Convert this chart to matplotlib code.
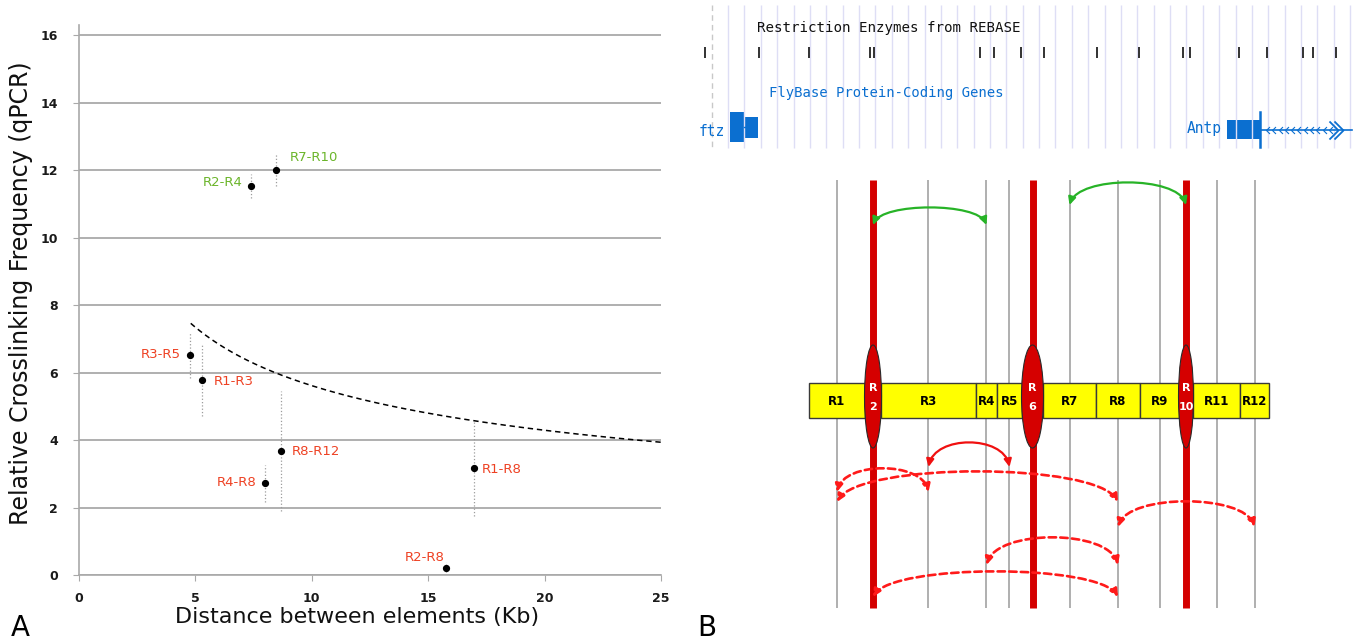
import matplotlib.pyplot as plt
import numpy as np
from matplotlib.patches import Rectangle, Ellipse, FancyArrowPatch
from matplotlib.path import Path

# ---------------- panel A data ----------------
pairs = ["R7-R10", "R2-R4", "R3-R5", "R1-R3", "R8-R12", "R4-R8", "R1-R8", "R2-R8"]
distance_kb = [8.47, 7.37, 4.77, 5.29, 8.66, 7.99, 16.95, 15.75]
frequency = [12.0, 11.52, 6.53, 5.78, 3.67, 2.73, 3.17, 0.22]
err_low = [11.52, 11.16, 5.84, 4.71, 1.9, 2.16, 1.74, 0.09]
err_high = [12.49, 11.89, 7.21, 6.81, 5.44, 3.26, 4.53, 0.38]
pair_group = ["green", "green", "red", "red", "red", "red", "red", "red"]

# points
curve_x = [4.8, 8.5, 10, 17, 20, 25]
curve_y = [7.48, 6.0, 5.56, 4.56, 4.29, 3.95]

# ---------------- panel B data ----------------
region_names = ["R1", "R2", "R3", "R4", "R5", "R6", "R7", "R8", "R9", "R10", "R11", "R12"]
region_edges = [809, 865, 881, 976, 997, 1022, 1043, 1096, 1140, 1179, 1193, 1240, 1269]
insulators = ["R2", "R6", "R10"]

rebase_sites = [705, 759, 809, 870, 874, 980, 994, 1021, 1044, 1097, 1139,
                1183, 1190, 1239, 1267, 1303, 1313, 1336]

# interactions drawn as arcs (from, to, kind)
arcs = [("R2", "R4", "green"), ("R7", "R10", "green"), ("R3", "R5", "red"),
        ("R1", "R3", "red-dash"), ("R1", "R8", "red-dash"), ("R8", "R12", "red-dash"),
        ("R4", "R8", "red-dash"), ("R2", "R8", "red-dash")]
arc_base = [225, 205, 467, 492, 502, 527, 565, 597]
arc_height = [17, 22, 24, 23, 30, 25, 27, 25]

RED_TXT = "#ee4123"
GREEN_TXT = "#6bb52a"
label_colors = {"green": GREEN_TXT, "red": RED_TXT}
label_offsets = [(10, 9, "left"), (-6, 3, "right"), (-7, 0, "right"), (8, -1, "left"),
                 (8, 0, "left"), (-6, 0, "right"), (6, -1, "left"), (-1, 7, "right")]

W, H = 1357, 643
fig = plt.figure(figsize=(W / 100, H / 100), dpi=100)

# ======== panel A ========
ax = fig.add_axes([79 / W, 1 - 575 / H, 582 / W, 550 / H])
ax.set_xlim(0, 25)
ax.set_ylim(0, 16.3)
ax.set_xticks(range(0, 26, 5))
ax.set_yticks(range(0, 17, 2))
ax.grid(axis="y", color="#a9a9a9", lw=1.3)
ax.set_axisbelow(True)
for s in ["top", "right"]:
    ax.spines[s].set_visible(False)
for s in ["left", "bottom"]:
    ax.spines[s].set_color("#a9a9a9")
    ax.spines[s].set_linewidth(1.2)
ax.tick_params(axis="both", color="#a9a9a9", labelcolor="#1a1a1a", length=4, labelsize=9)
ax.tick_params(axis="y", pad=11)
ax.tick_params(axis="x", pad=8)
for t in ax.get_xticklabels() + ax.get_yticklabels():
    t.set_fontweight("bold")

ax.vlines(distance_kb, err_low, err_high, colors="#9c9c9c", linestyles=":", lw=0.9)
ax.plot(distance_kb, frequency, "o", color="black", ms=4.2, zorder=3)

# power-law trend fitted to the points
b, ln_a = np.polyfit(np.log(curve_x), np.log(curve_y), 1)
xs = np.linspace(curve_x[0], curve_x[-1], 200)
ax.plot(xs, np.exp(ln_a) * xs ** b, color="black", lw=1.1, ls=(0, (3.5, 2.5)))

for name, x, y, grp, (dx, dy, ha) in zip(pairs, distance_kb, frequency, pair_group, label_offsets):
    ax.annotate(name, (x, y), xytext=(dx, dy), textcoords="offset points",
                ha=ha, va="center", color=label_colors[grp], fontsize=9.5)

ax.set_ylabel("Relative Crosslinking Frequency (qPCR)", fontsize=17, color="#111")
ax.yaxis.set_label_coords(-0.079, 0.513)
ax.set_xlabel("Distance between elements (Kb)", fontsize=16, color="#111")
ax.xaxis.set_label_coords(0.4785, -0.058)

fig.text(11 / W, 1 - 636 / H, "A", fontsize=20, va="baseline")
fig.text(697 / W, 1 - 636 / H, "B", fontsize=20, va="baseline")

# ======== panel B ========
axb = fig.add_axes([680 / W, 0, 677 / W, 1])
axb.set_xlim(680, W)
axb.set_ylim(H, 0)
axb.axis("off")

# genome browser strip
blue = "#0b6fd0"
grid_x = np.arange(711.7, 1352, 16.37)
axb.vlines(grid_x[1:], 5, 148, colors="#dedef5", lw=1)
axb.vlines(grid_x[0], 5, 148, colors="#c8c8c8", lw=1, linestyles=(0, (4, 3)))
axb.vlines(rebase_sites, 47, 58, colors="#222222", lw=1.3)
mono = "DejaVu Sans Mono"
axb.text(757, 28, "Restriction Enzymes from REBASE", family=mono, fontsize=10.2,
         va="center", color="#111")
axb.text(769, 93, "FlyBase Protein-Coding Genes", family=mono, fontsize=10,
         va="center", color=blue)
axb.text(699, 131, "ftz", family=mono, fontsize=10.5, va="center", color=blue)
axb.add_patch(Rectangle((730, 112), 14, 30, color=blue, lw=0))
axb.add_patch(Rectangle((745.5, 117), 12.5, 21, color=blue, lw=0))
axb.plot([744, 746], [127, 127], color=blue, lw=1)
axb.text(1187, 129, "Antp", family=mono, fontsize=10.5, va="center", color=blue)
axb.add_patch(Rectangle((1227, 120), 33, 19, color=blue, lw=0))
axb.plot([1260, 1260], [112, 147], color=blue, lw=1.8)
axb.plot([1260, 1352], [130, 130], color=blue, lw=1.2)
chev_l = Path([(1, 1), (0, 0), (1, -1)], [Path.MOVETO, Path.LINETO, Path.LINETO])
chev_r = Path([(-1, 1), (0, 0), (-1, -1)], [Path.MOVETO, Path.LINETO, Path.LINETO])
axb.plot(np.arange(1266, 1330, 6.3), np.full(11, 130), ls="", marker=chev_l, ms=5,
         mfc="none", mec=blue, mew=0.8)
axb.plot([1338, 1343], [130, 130], ls="", marker=chev_r, ms=13, mfc="none", mec=blue, mew=1.3)

# diagram
centers = {n: (region_edges[i] + region_edges[i + 1]) / 2 for i, n in enumerate(region_names)}
widths = {n: region_edges[i + 1] - region_edges[i] for i, n in enumerate(region_names)}
top, bottom = 180, 608
bar_y, bar_h = 383, 35
ell_y, ell_h = 396.5, 103

normal = [n for n in region_names if n not in insulators]
axb.vlines([centers[n] for n in normal], top, bottom, colors="#9a9a9a", lw=1.1, zorder=1)
axb.vlines([centers[n] for n in insulators], top, bottom, colors="#d40000", lw=5, zorder=2)

for n in normal:
    i = region_names.index(n)
    axb.add_patch(Rectangle((region_edges[i], bar_y), widths[n], bar_h, fc="#ffff00",
                            ec="#3a3a3a", lw=1, zorder=3))
    axb.text(centers[n], bar_y + bar_h / 2 + 1, n, ha="center", va="center",
             fontsize=8.5, fontweight="bold", zorder=5)
for n in insulators:
    axb.add_patch(Ellipse((centers[n], ell_y), widths[n] + 1, ell_h, fc="#d50000",
                          ec="#2a2a2a", lw=0.8, zorder=4))
    axb.text(centers[n], 388, "R", ha="center", va="center", color="white",
             fontsize=8, fontweight="bold", zorder=5)
    axb.text(centers[n], 407, n[1:], ha="center", va="center", color="white",
             fontsize=8, fontweight="bold", zorder=5)

arc_styles = {"green": ("#27b327", "-", 1.6),
              "red": ("#f01010", "-", 1.6),
              "red-dash": ("#ff1a1a", (0, (2.8, 1.6)), 1.9)}
for (a, c, kind), yb, h in zip(arcs, arc_base, arc_height):
    x1, x2 = centers[a], centers[c]
    d = x2 - x1
    verts = [(x1, yb), (x1 + 0.08 * d, yb - 4 / 3 * h),
             (x2 - 0.08 * d, yb - 4 / 3 * h), (x2, yb)]
    path = Path(verts, [Path.MOVETO, Path.CURVE4, Path.CURVE4, Path.CURVE4])
    col, ls, lw = arc_styles[kind]
    axb.add_patch(FancyArrowPatch(path=path, arrowstyle="<|-|>,head_length=4.5,head_width=2.2",
                                  mutation_scale=1, color=col, lw=lw, linestyle=ls, zorder=6))

fig.savefig("out.png", dpi=100)
